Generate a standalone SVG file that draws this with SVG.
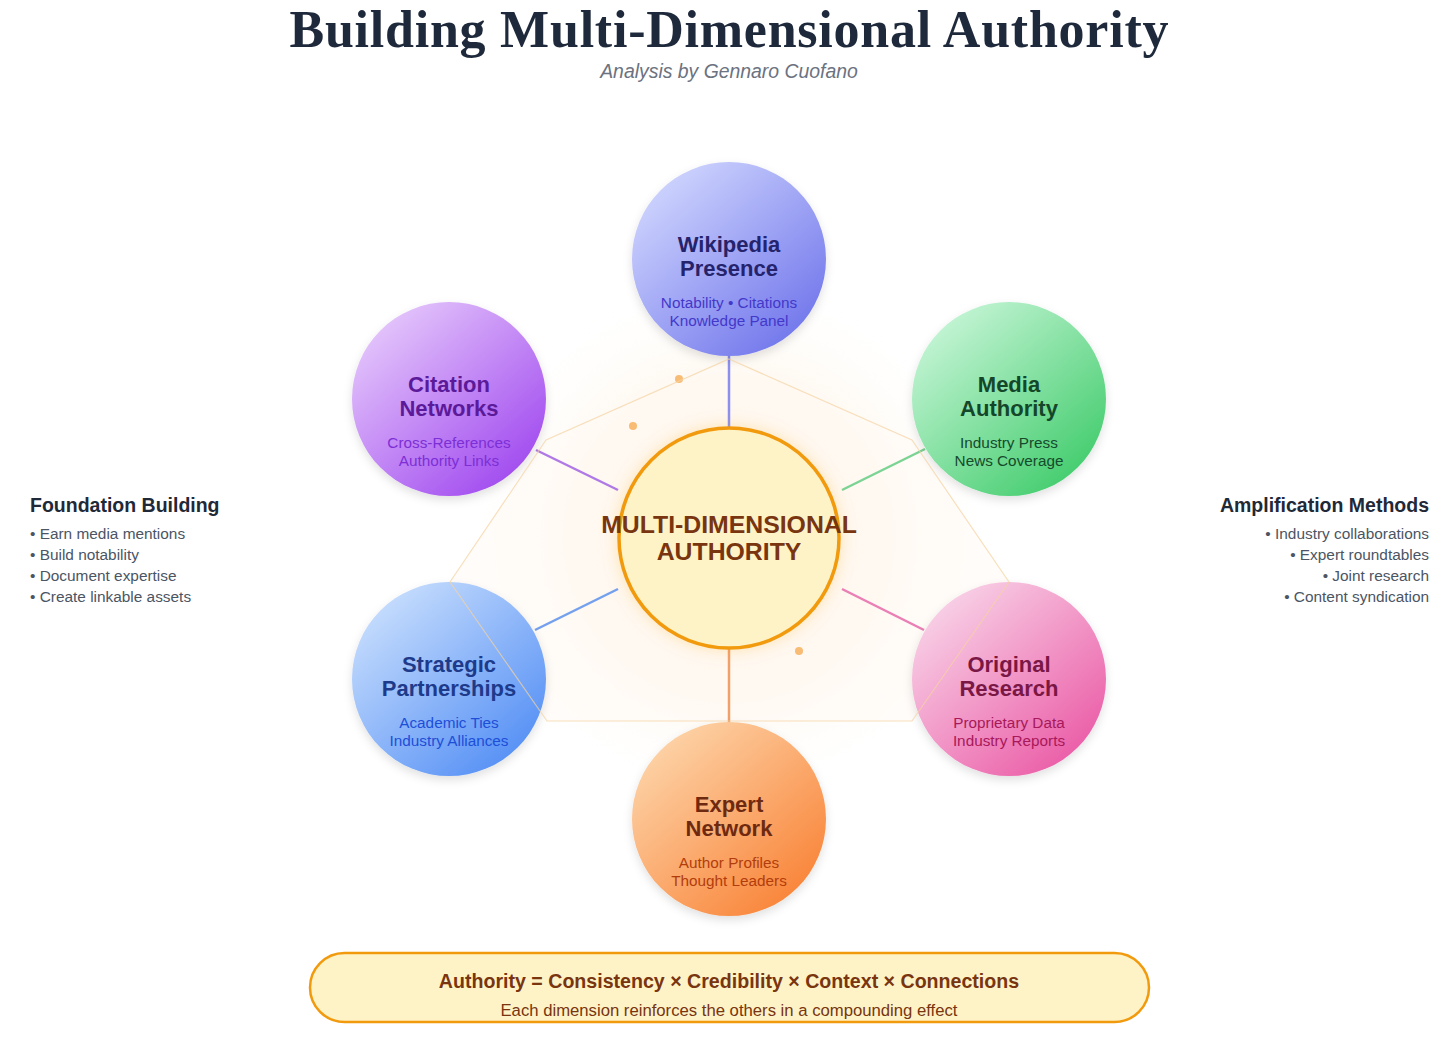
<svg xmlns="http://www.w3.org/2000/svg" width="1456" height="1038" viewBox="0 0 1456 1038">
<style>
.ttl{font-family:"Liberation Sans",Arial,sans-serif;font-weight:bold;font-size:22px;text-anchor:middle}
.sub{font-family:"Liberation Sans",Arial,sans-serif;font-size:15.3px;text-anchor:middle}
.side-h{font-family:"Liberation Sans",Arial,sans-serif;font-weight:bold;font-size:19.5px;fill:#1f2937}
.side-i{font-family:"Liberation Sans",Arial,sans-serif;font-size:15.4px;fill:#4b5563}
.conn{stroke-width:2.5;fill:none}
.dot{fill:#f6ad55;opacity:0.8}
</style>
<defs>
<radialGradient id="glow" cx="0.5" cy="0.5" r="0.5">
<stop offset="0" stop-color="#fde9c8" stop-opacity="0.7"/>
<stop offset="0.6" stop-color="#fdf0dc" stop-opacity="0.4"/>
<stop offset="1" stop-color="#ffffff" stop-opacity="0"/>
</radialGradient>
<linearGradient id="gWiki" x1="0.15" y1="0.1" x2="0.85" y2="0.9"><stop offset="0" stop-color="#cdd3fd"/><stop offset="1" stop-color="#7378ec"/></linearGradient>
<linearGradient id="gCit" x1="0.15" y1="0.1" x2="0.85" y2="0.9"><stop offset="0" stop-color="#e3c4fb"/><stop offset="1" stop-color="#a24cef"/></linearGradient>
<linearGradient id="gMed" x1="0.15" y1="0.1" x2="0.85" y2="0.9"><stop offset="0" stop-color="#c3f4d4"/><stop offset="1" stop-color="#45cd6f"/></linearGradient>
<linearGradient id="gStr" x1="0.15" y1="0.1" x2="0.85" y2="0.9"><stop offset="0" stop-color="#c5dcfd"/><stop offset="1" stop-color="#5791f5"/></linearGradient>
<linearGradient id="gOri" x1="0.15" y1="0.1" x2="0.85" y2="0.9"><stop offset="0" stop-color="#f8d0e6"/><stop offset="1" stop-color="#eb5ea8"/></linearGradient>
<linearGradient id="gExp" x1="0.15" y1="0.1" x2="0.85" y2="0.9"><stop offset="0" stop-color="#fdd2a6"/><stop offset="1" stop-color="#f9853a"/></linearGradient>
<filter id="sh" x="-20%" y="-20%" width="140%" height="140%">
<feDropShadow dx="0" dy="4" stdDeviation="5" flood-color="#000" flood-opacity="0.12"/>
</filter>
<filter id="shc" x="-30%" y="-30%" width="160%" height="160%">
<feDropShadow dx="0" dy="0" stdDeviation="8" flood-color="#f59e0b" flood-opacity="0.25"/>
</filter>
</defs>
<rect width="1456" height="1038" fill="#ffffff"/>

<text x="729" y="47" text-anchor="middle" font-family="'Liberation Serif','Times New Roman',serif" font-weight="bold" font-size="52" textLength="879" lengthAdjust="spacing" fill="#1e293b">Building Multi-Dimensional Authority</text>
<text x="729" y="78" text-anchor="middle" font-family="'Liberation Sans',Arial,sans-serif" font-style="italic" font-size="19.4" fill="#6b7280">Analysis by Gennaro Cuofano</text>

<circle cx="729" cy="538" r="270" fill="url(#glow)"/>
<path d="M729,359 L912,440 L1009,582 L912,721 L547,721 L450,582 L546,440 Z" fill="#fffaf3" fill-opacity="0.5" stroke="none"/>
<circle class="dot" cx="679" cy="379" r="4"/>
<circle class="dot" cx="633" cy="426" r="4"/>
<circle class="dot" cx="799" cy="651" r="4"/>

<g id="connectors">
<line class="conn" x1="729" y1="356" x2="729" y2="427" stroke="#8b8ff0"/>
<line class="conn" x1="536" y1="450" x2="618" y2="490" stroke="#b07ae6"/>
<line class="conn" x1="925" y1="449" x2="842" y2="490" stroke="#7bd394"/>
<line class="conn" x1="535" y1="630" x2="618" y2="589" stroke="#74a0ee"/>
<line class="conn" x1="924" y1="630" x2="842" y2="589" stroke="#ea7fb6"/>
<line class="conn" x1="729" y1="649" x2="729" y2="722" stroke="#f2a06a"/>
</g>

<g id="center">
<circle cx="729" cy="538" r="110" fill="#fef3c7" stroke="#f29a0e" stroke-width="3.5" filter="url(#shc)"/>
<text x="729" y="533" text-anchor="middle" font-family="'Liberation Sans',Arial,sans-serif" font-weight="bold" font-size="24.8" fill="#78350f">MULTI-DIMENSIONAL</text>
<text x="729" y="560" text-anchor="middle" font-family="'Liberation Sans',Arial,sans-serif" font-weight="bold" font-size="24.8" fill="#78350f">AUTHORITY</text>
</g>

<g id="wikipedia">
<circle cx="729" cy="259" r="97" fill="url(#gWiki)" filter="url(#sh)"/>
<text class="ttl" x="729" y="252" fill="#25236b">Wikipedia</text>
<text class="ttl" x="729" y="276" fill="#25236b">Presence</text>
<text class="sub" x="729" y="308" fill="#4338ca">Notability • Citations</text>
<text class="sub" x="729" y="326" fill="#4338ca">Knowledge Panel</text>
</g>

<g id="citation">
<circle cx="449" cy="399" r="97" fill="url(#gCit)" filter="url(#sh)"/>
<text class="ttl" x="449" y="392" fill="#5b1a99">Citation</text>
<text class="ttl" x="449" y="416" fill="#5b1a99">Networks</text>
<text class="sub" x="449" y="448" fill="#7c2fd6">Cross-References</text>
<text class="sub" x="449" y="466" fill="#7c2fd6">Authority Links</text>
</g>

<g id="media">
<circle cx="1009" cy="399" r="97" fill="url(#gMed)" filter="url(#sh)"/>
<text class="ttl" x="1009" y="392" fill="#14462a">Media</text>
<text class="ttl" x="1009" y="416" fill="#14462a">Authority</text>
<text class="sub" x="1009" y="448" fill="#164a2c">Industry Press</text>
<text class="sub" x="1009" y="466" fill="#164a2c">News Coverage</text>
</g>

<g id="strategic">
<circle cx="449" cy="679" r="97" fill="url(#gStr)" filter="url(#sh)"/>
<text class="ttl" x="449" y="672" fill="#1e3a8a">Strategic</text>
<text class="ttl" x="449" y="696" fill="#1e3a8a">Partnerships</text>
<text class="sub" x="449" y="728" fill="#1d4ed8">Academic Ties</text>
<text class="sub" x="449" y="746" fill="#1d4ed8">Industry Alliances</text>
</g>

<g id="original">
<circle cx="1009" cy="679" r="97" fill="url(#gOri)" filter="url(#sh)"/>
<text class="ttl" x="1009" y="672" fill="#7a1745">Original</text>
<text class="ttl" x="1009" y="696" fill="#7a1745">Research</text>
<text class="sub" x="1009" y="728" fill="#a8185a">Proprietary Data</text>
<text class="sub" x="1009" y="746" fill="#a8185a">Industry Reports</text>
</g>

<g id="expert">
<circle cx="729" cy="819" r="97" fill="url(#gExp)" filter="url(#sh)"/>
<text class="ttl" x="729" y="812" fill="#6e2a10">Expert</text>
<text class="ttl" x="729" y="836" fill="#6e2a10">Network</text>
<text class="sub" x="729" y="868" fill="#b23d0c">Author Profiles</text>
<text class="sub" x="729" y="886" fill="#b23d0c">Thought Leaders</text>
</g>

<path d="M729,359 L912,440 L1009,582 L912,721 L547,721 L450,582 L546,440 Z" fill="none" stroke="#f5d3a3" stroke-width="1.2" stroke-opacity="0.7"/>

<g id="foundation">
<text class="side-h" x="30" y="512">Foundation Building</text>
<text class="side-i" x="30" y="539">• Earn media mentions</text>
<text class="side-i" x="30" y="560">• Build notability</text>
<text class="side-i" x="30" y="581">• Document expertise</text>
<text class="side-i" x="30" y="602">• Create linkable assets</text>
</g>

<g id="amplification">
<text class="side-h" x="1429" y="512" text-anchor="end">Amplification Methods</text>
<text class="side-i" x="1429" y="539" text-anchor="end">• Industry collaborations</text>
<text class="side-i" x="1429" y="560" text-anchor="end">• Expert roundtables</text>
<text class="side-i" x="1429" y="581" text-anchor="end">• Joint research</text>
<text class="side-i" x="1429" y="602" text-anchor="end">• Content syndication</text>
</g>

<g id="formula">
<rect x="310" y="953" width="839" height="69" rx="34.5" fill="#fef3c7" stroke="#f29a0e" stroke-width="2.5"/>
<text x="729" y="988" text-anchor="middle" font-family="'Liberation Sans',Arial,sans-serif" font-weight="bold" font-size="19.6" fill="#78350f">Authority = Consistency × Credibility × Context × Connections</text>
<text x="729" y="1016" text-anchor="middle" font-family="'Liberation Sans',Arial,sans-serif" font-size="16.7" fill="#78350f">Each dimension reinforces the others in a compounding effect</text>
</g>
</svg>
